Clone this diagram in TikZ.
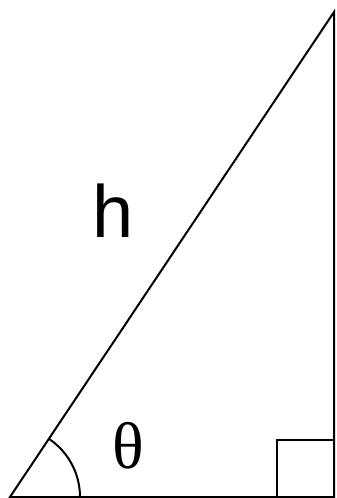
\documentclass[tikz,border=0pt]{standalone}
\usepackage{fontspec}
\setmainfont{Liberation Serif}
\newfontfamily\helv{Liberation Sans}
\usetikzlibrary{positioning,calc}

\begin{document}
\begin{tikzpicture}[x=1pt, y=-1pt, line width=2pt]
\useasboundingbox (0,0) rectangle (337,498);
\coordinate (base) at (10,497);
\coordinate (corner) at (334,497);
\coordinate (apex) at (334,12);

\draw (base)--(corner)--(apex)--cycle;
% right angle mark
\draw ($(corner)+(-57,0)$) |- ($(corner)+(0,-57)$);
% angle arc
\draw ($(base)+(70,0)$) arc[start angle=0, end angle=56.2, radius=70pt];

\node[font=\helv\fontsize{74}{74}\selectfont] (hyp) at (113,211) {h};
\node[font=\fontsize{66}{66}\selectfont] (ang) at (128,446) {θ};
\end{tikzpicture}
\end{document}
